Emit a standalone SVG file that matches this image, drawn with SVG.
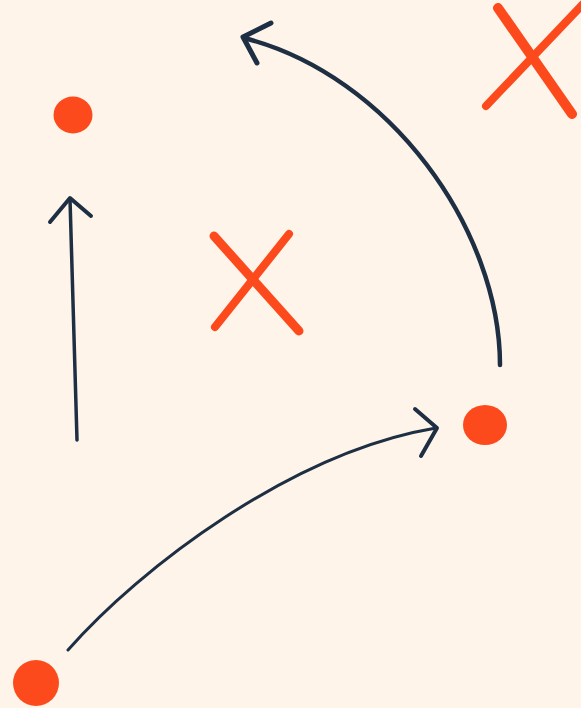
<svg xmlns="http://www.w3.org/2000/svg" width="581" height="708" viewBox="0 0 581 708">
  <style>
    .bg { fill: #FEF4EA; }
    .dot { fill: #FD4A1C; }
    .x { stroke: #FD4A1C; stroke-linecap: round; fill: none; }
    .ln { stroke: #1E2F44; fill: none; stroke-linecap: round; stroke-linejoin: round; }
  </style>
  <rect class="bg" x="0" y="0" width="581" height="708"/>

  <g id="dot-top-left">
    <ellipse class="dot" cx="73" cy="115" rx="19.5" ry="18.5"/>
  </g>
  <g id="dot-right">
    <ellipse class="dot" cx="485" cy="425" rx="22" ry="20"/>
  </g>
  <g id="dot-bottom-left">
    <ellipse class="dot" cx="36" cy="683" rx="23" ry="23"/>
  </g>

  <g id="x-center">
    <path class="x" d="M214,236 L299,331" stroke-width="9"/>
    <path class="x" d="M289,234 L215,327" stroke-width="8"/>
  </g>
  <g id="x-top-right">
    <path class="x" d="M498,8 L572,114" stroke-width="10"/>
    <path class="x" d="M486,106 L583,4" stroke-width="8"/>
  </g>

  <g id="connectors">
    <!-- vertical arrow -->
    <path class="ln" d="M77,440 L70,199" stroke-width="3.5"/>
    <path class="ln" d="M50,222 L70,198 L91,216" stroke-width="4"/>
    <!-- big curved arrow -->
    <path class="ln" d="M500,365 C500,230 390,75 244,38" stroke-width="4.5"/>
    <path class="ln" d="M271,23 L243,37 L257,63" stroke-width="5"/>
    <!-- lower curved arrow -->
    <path class="ln" d="M68,650 C140,568 292,452 436,428" stroke-width="3"/>
    <path class="ln" d="M415,409 L437,428 L421,456" stroke-width="4"/>
  </g>
</svg>
